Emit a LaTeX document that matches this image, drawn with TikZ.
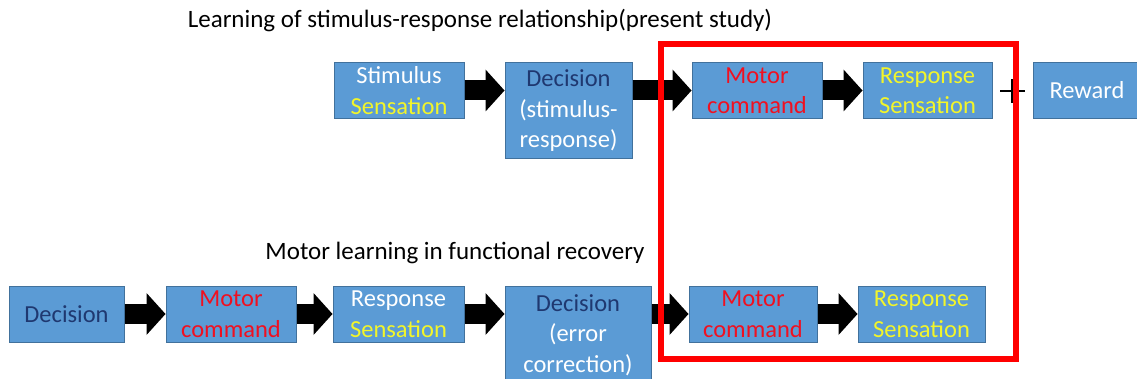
\documentclass[tikz,border=0pt]{standalone}
\usepackage{fontspec}
\setmainfont{Carlito}
\usetikzlibrary{arrows.meta}
\definecolor{boxfill}{HTML}{5B9BD5}
\definecolor{boxline}{HTML}{41719C}
\definecolor{txtyellow}{HTML}{F2F52A}
\definecolor{txtnavy}{HTML}{1F3870}
\definecolor{txtred}{HTML}{F01020}
\definecolor{frame}{HTML}{FF0000}
\tikzset{
  box/.style={draw=boxline, line width=1pt, fill=boxfill, inner sep=0pt, align=center,
    font=\fontsize{24.5}{30.5}\selectfont, text=white, minimum height=56pt},
  blockarrow/.style={draw=black, line width=20pt,
    -{Triangle[length=19pt, width=42pt, line width=0pt]}},
  title/.style={font=\fontsize{25}{30}\selectfont, text=black, inner sep=0pt},
}
\begin{document}
\begin{tikzpicture}[x=1pt,y=-1pt]
\path[use as bounding box] (0,0) rectangle (1137,379);
\clip (0,0) rectangle (1137,379);

% titles
\node[title] (t1) at (480,21) {Learning of stimulus-response relationship(present study)};
\node[title] (t2) at (455,253) {Motor learning in functional recovery};

% top row
\node[box, minimum width=130pt] (stim) at (399,90.5) {Stimulus\\\textcolor{txtyellow}{Sensation}};
\node[box, minimum width=127pt, minimum height=96pt] (dec1) at (568.5,111) {\textcolor{txtnavy}{Decision}\\(stimulus-\\response)};
\node[box, minimum width=130pt] (mot1) at (757,90.5) {\textcolor{txtred}{Motor}\\\textcolor{txtred}{command}};
\node[box, minimum width=129pt] (resp1) at (927.5,90.5) {\textcolor{txtyellow}{Response}\\\textcolor{txtyellow}{Sensation}};
\node[box, minimum width=108pt] (reward) at (1087,90.5) {Reward};

% bottom row
\node[box, minimum width=115pt] (dec2a) at (66.5,314) {\textcolor{txtnavy}{Decision}};
\node[box, minimum width=130pt] (mot2a) at (231,314) {\textcolor{txtred}{Motor}\\\textcolor{txtred}{command}};
\node[box, minimum width=131pt] (resp2a) at (398.5,314) {Response\\\textcolor{txtyellow}{Sensation}};
\node[box, minimum width=146pt, minimum height=98pt] (dec2b) at (578,335) {\textcolor{txtnavy}{Decision}\\(error\\correction)};
\node[box, minimum width=128pt] (mot2b) at (753,314) {\textcolor{txtred}{Motor}\\\textcolor{txtred}{command}};
\node[box, minimum width=127pt] (resp2b) at (921.5,314) {\textcolor{txtyellow}{Response}\\\textcolor{txtyellow}{Sensation}};

% arrows top
\draw[blockarrow] (stim.east) -- (stim.east -| dec1.west);
\draw[blockarrow] (dec1.east |- mot1.west) -- (mot1.west);
\draw[blockarrow] (mot1.east) -- (resp1.west);

% arrows bottom
\draw[blockarrow] (dec2a.east) -- (mot2a.west);
\draw[blockarrow] (mot2a.east) -- (resp2a.west);
\draw[blockarrow] (resp2a.east) -- (resp2a.east -| dec2b.west);
\draw[blockarrow] (dec2b.east |- mot2b.west) -- (mot2b.west);
\draw[blockarrow] (mot2b.east) -- (resp2b.west);

% plus sign
\coordinate (plus) at (1012,91);
\draw[line width=2pt] ([xshift=-12pt]plus) -- ([xshift=13pt]plus);
\draw[line width=2pt] ([yshift=-12pt]plus) -- ([yshift=12pt]plus);

% red frame
\draw[draw=frame, line width=6pt] (661,44) rectangle (1016,359);
\end{tikzpicture}
\end{document}
